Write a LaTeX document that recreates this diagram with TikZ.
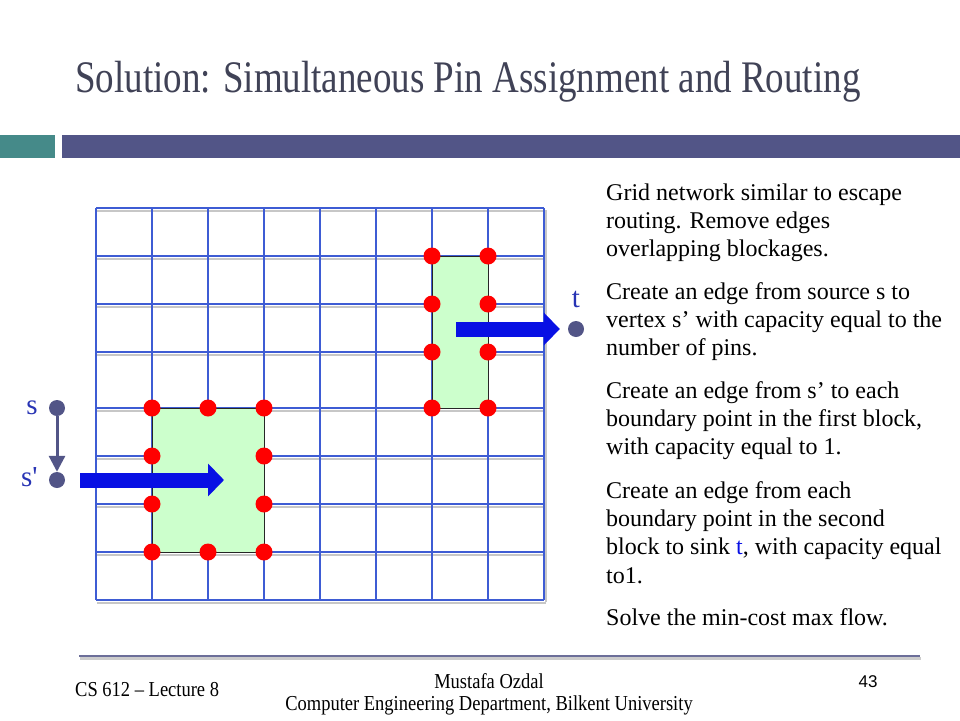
\documentclass[tikz,border=0pt]{standalone}
\usepackage{fontspec}
\setmainfont{Liberation Serif}
\newfontfamily\pagenumfont{Liberation Sans}
\usepackage{xcolor}
\usepackage{tikz}
\usetikzlibrary{positioning, arrows.meta}

\definecolor{barslate}{RGB}{82,85,135}
\definecolor{barteal}{RGB}{69,138,137}
\definecolor{titlegrey}{RGB}{64,66,86}
\definecolor{gridblue}{RGB}{62,92,212}
\definecolor{blockgreen}{RGB}{204,255,204}
\definecolor{flowblue}{RGB}{8,16,228}
\definecolor{labelblue}{RGB}{40,52,180}

\begin{document}
\begin{tikzpicture}[
    x=1pt, y=-1pt,
    title/.style={anchor=base west, inner sep=0pt, text=titlegrey, font=\fontsize{37}{40}\selectfont},
    bodytext/.style={anchor=base west, inner sep=0pt, align=left, font=\fontsize{24}{28.4}\selectfont},
    foottext/.style={anchor=base, inner sep=0pt, align=center, font=\fontsize{18.5}{22}\selectfont},
    gridline/.style={draw=gridblue, line width=1.6pt},
    gridshadow/.style={draw=black!22, line width=2pt},
    block/.style={fill=blockgreen, draw=black!85, line width=0.7pt},
    pin/.style={circle, fill=red, minimum size=17pt, inner sep=0pt},
    terminal/.style={circle, fill=barslate, minimum size=16pt, inner sep=0pt},
    termlabel/.style={inner sep=0pt, text=labelblue, font=\fontsize{29}{30}\selectfont},
    flow/.style={-{Triangle[length=16pt, width=32pt]}, line width=15pt, draw=flowblue},
    feed/.style={-{Triangle[length=16pt, width=16pt]}, line width=3pt, draw=barslate}
]
\useasboundingbox (0,0) rectangle (960,720);

% header
\node[title] (head) at (75,92) {\scalebox{1}[1.22]{Solution: Simultaneous Pin Assignment and Routing}};
\fill[barteal] (0,135) rectangle (55,158);
\fill[barslate] (62,135) rectangle (960,158);

% grid network
\foreach \y in {208,256,304,352,408,456,504,552,600}
    \draw[gridshadow] (97,\y+2.5) -- (546,\y+2.5);
\draw[gridshadow] (546,210) -- (546,602);
\foreach \x in {96,152,208,264,320,376,432,488,544}
    \draw[gridline] (\x,208) -- (\x,600);
\foreach \y in {208,256,304,352,408,456,504,552,600}
    \draw[gridline] (96,\y) -- (544,\y);

% blockages
\filldraw[block] (152,408) rectangle (264,552);
\filldraw[block] (432,256) rectangle (488,408);

% boundary points
\foreach \x/\y [count=\i] in {152/408,208/408,264/408,152/456,264/456,152/504,264/504,152/552,208/552,264/552}
    \node[pin] (first\i) at (\x,\y) {};
\foreach \x/\y [count=\i] in {432/256,488/256,432/304,488/304,432/352,488/352,432/408,488/408}
    \node[pin] (second\i) at (\x,\y) {};

% source and sink
\node[terminal] (s) at (57,408) {};
\node[terminal] (sp) at (57,480) {};
\node[terminal] (t) at (576,329) {};
\node[termlabel, anchor=base east, xshift=-11pt, yshift=-6.5pt] (slabel) at (s.west) {s};
\node[termlabel, anchor=base east, xshift=-11pt, yshift=-6.5pt] (splabel) at (sp.west) {s\textquotesingle};
\node[termlabel, anchor=base, yshift=13pt] (tlabel) at (t.north) {t};

\coordinate (inflow) at (224,480);
\coordinate (outflow) at (456,329);
\draw[feed] (s) -- (sp);
\draw[flow, shorten <=15pt] (sp) -- (inflow);
\draw[flow, shorten >=8pt] (outflow) -- (t);

% explanation (placed at the baseline of each last line)
\node[bodytext] (p1) at (606,256.8) {Grid network similar to escape\\routing. Remove edges\\overlapping blockages.};
\node[bodytext] (p2) at (606,355.8) {Create an edge from source s to\\vertex s’ with capacity equal to the\\number of pins.};
\node[bodytext] (p3) at (606,454.8) {Create an edge from s’ to each\\boundary point in the first block,\\with capacity equal to 1.};
\node[bodytext] (p4) at (606,583.2) {Create an edge from each\\boundary point in the second\\block to sink \textcolor{flowblue}{t}, with capacity equal\\to1.};
\node[bodytext] (p5) at (606,625) {Solve the min-cost max flow.};

% footer
\draw[draw=black!20, line width=3pt] (80,658.5) -- (921,658.5);
\draw[draw=barslate!85, line width=2.5pt] (79,656) -- (920,656);
\node[foottext, anchor=base west] (course) at (75,696) {\scalebox{1}[1.15]{CS 612 – Lecture 8}};
\node[foottext] (author) at (489,688) {\scalebox{1}[1.15]{Mustafa Ozdal}};
\node[foottext] (dept) at (489,710) {\scalebox{1}[1.15]{Computer Engineering Department, Bilkent University}};
\node[anchor=base, inner sep=0pt, font=\pagenumfont\fontsize{17}{20}\selectfont] (pagenum) at (868,687) {43};
\end{tikzpicture}
\end{document}
